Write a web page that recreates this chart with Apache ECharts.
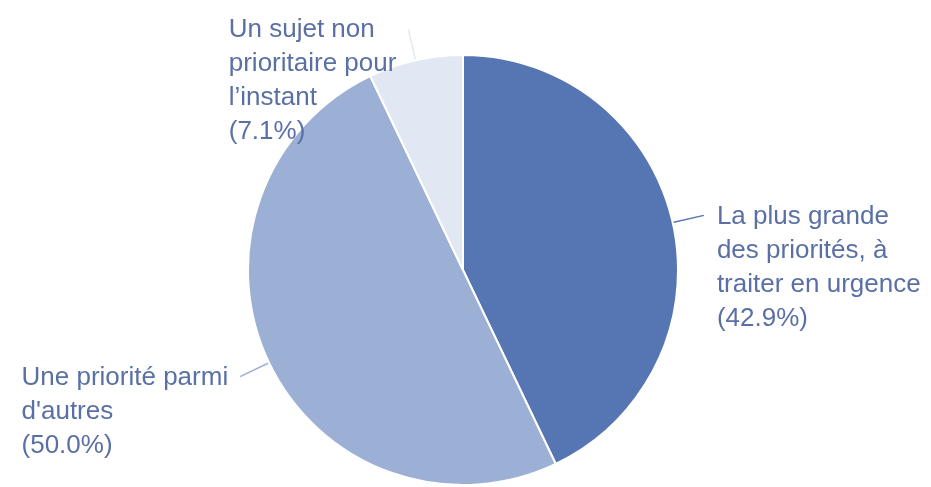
<!DOCTYPE html>
<html>
<head>
<meta charset="utf-8">
<script src="https://cdn.jsdelivr.net/npm/echarts@6/dist/echarts.min.js"></script>
<style>html,body{margin:0;padding:0;background:#fff}#c{width:931px;height:487px}</style>
</head>
<body>
<div id="c"></div>
<script>
const categories = [
  "La plus grande\ndes priorités, à\ntraiter en urgence",
  "Une priorité parmi\nd'autres",
  "Un sujet non\nprioritaire pour\nl’instant"
];
const values = [42.9, 50.0, 7.1];
const colors = ["#5675b3", "#9cb0d5", "#e2e8f3"];

const chart = echarts.init(document.getElementById('c'));
const LH = 34;
chart.setOption({
  backgroundColor: '#fff',
  animation: false,
  series: [{
    type: 'pie',
    center: [463, 270],
    radius: 215,
    startAngle: 90,
    clockwise: true,
    avoidLabelOverlap: false,
    data: categories.map((n, i) => ({ name: n, value: values[i], itemStyle: { color: colors[i] } })),
    itemStyle: { borderColor: '#fff', borderWidth: 2 },
    label: {
      show: true,
      position: 'outside',
      formatter: p => p.name + '\n(' + p.value.toFixed(1) + '%)',
      color: '#5a70a5',
      fontFamily: 'Liberation Sans, Arial, sans-serif',
      fontSize: 26,
      lineHeight: LH
    },
    labelLine: { show: true, length: 32, length2: 0, lineStyle: { width: 1.5 } },
    labelLayout: function (params) {
      const pts = params.labelLinePoints;
      const p0 = pts[0], p1 = pts[1];
      const r = params.labelRect;
      const right = p1[0] > p0[0];
      return {
        x: right ? p1[0] + 13 : p1[0] - 12 - r.width,
        y: p1[1] + 1 - LH / 2,
        align: 'left',
        verticalAlign: 'top',
        labelLinePoints: [p0, p1]
      };
    }
  }]
});
</script>
</body>
</html>
